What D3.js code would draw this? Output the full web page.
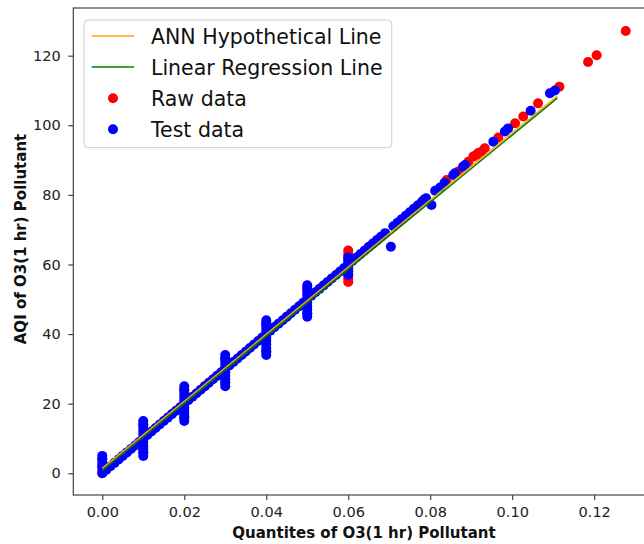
<!DOCTYPE html>
<html>
<head>
<meta charset="utf-8">
<script src="https://cdn.jsdelivr.net/npm/d3@7/dist/d3.min.js"></script>
<style>
  body { margin: 0; background: #fff; }
  svg { display: block; font-family: "DejaVu Sans", sans-serif; }
</style>
</head>
<body>
<div id="chart"></div>
<script>
'use strict';

var width = 644;
var height = 544;

// fitted lines (x in ppm, y = AQI)
var annX = [0, 0.111];
var annY = [1.4, 108.4];
var lrX = [0, 0.111];
var lrY = [0.8, 107.8];

// raw data (red)
var rawX = [
  0, 0, 0, 0.01, 0.01, 0.01, 0.02, 0.02, 0.03, 0.03, 0.04, 0.04, 0.05, 0.05,
  0.06, 0.06, 0.06, 0.06, 0.06, 0.06, 0.06, 0.06, 0.06, 0.06,
  0.025, 0.045, 0.065, 0.0785, 0.084, 0.0868, 0.0893, 0.0905, 0.0913, 0.0917,
  0.0925, 0.0933, 0.0966, 0.1007, 0.1027, 0.1063, 0.1115,
  0.1185, 0.1206, 0.1277
];
var rawY = [
  0, 2, 4, 6, 10, 14, 16, 24, 26, 33, 35, 43, 46, 53,
  55, 56, 57, 58, 59, 60, 61, 62, 63, 64,
  25, 45, 65, 78.7, 84.3, 86.7, 89.5, 91, 91.5, 92,
  92.4, 93.4, 96.5, 100.6, 102.5, 106.3, 111.1,
  118.2, 120.1, 127.1
];

// test data (blue)
var testX = [
  0, 0, 0, 0, 0, 0,
  0.01, 0.01, 0.01, 0.01, 0.01, 0.01, 0.01, 0.01, 0.01, 0.01, 0.01,
  0.02, 0.02, 0.02, 0.02, 0.02, 0.02, 0.02, 0.02, 0.02, 0.02, 0.02,
  0.03, 0.03, 0.03, 0.03, 0.03, 0.03, 0.03, 0.03, 0.03, 0.03,
  0.04, 0.04, 0.04, 0.04, 0.04, 0.04, 0.04, 0.04, 0.04, 0.04, 0.04,
  0.05, 0.05, 0.05, 0.05, 0.05, 0.05, 0.05, 0.05, 0.05, 0.05,
  0.06, 0.06, 0.06, 0.06, 0.06, 0.06,
  0.001, 0.002, 0.003, 0.004, 0.005, 0.006, 0.007, 0.008, 0.009,
  0.011, 0.012, 0.013, 0.014, 0.015, 0.016, 0.017, 0.018, 0.019,
  0.021, 0.022, 0.023, 0.024, 0.025, 0.026, 0.027, 0.028, 0.029,
  0.031, 0.032, 0.033, 0.034, 0.035, 0.036, 0.037, 0.038, 0.039,
  0.041, 0.042, 0.043, 0.044, 0.045, 0.046, 0.047, 0.048, 0.049,
  0.051, 0.052, 0.053, 0.054, 0.055, 0.056, 0.057, 0.058, 0.059,
  0.061, 0.062, 0.063, 0.064, 0.065, 0.066, 0.067, 0.068, 0.069,
  0.071, 0.072, 0.073, 0.074, 0.075, 0.076, 0.077, 0.078, 0.079,
  0.0704, 0.0803, 0.0812, 0.0824, 0.0835, 0.0856, 0.086, 0.088, 0.0885,
  0.0954, 0.0982, 0.099, 0.1045, 0.1092, 0.1104
];
var testY = [
  0, 1, 2, 3, 4, 5,
  5, 6, 7, 8, 9, 10, 11, 12, 13, 14, 15,
  15, 16, 17, 18, 19, 20, 21, 22, 23, 24, 25,
  25, 26, 27, 28, 29, 30, 31, 32, 33, 34,
  34, 35, 36, 37, 38, 39, 40, 41, 42, 43, 44,
  45, 46, 47, 48, 49, 50, 51, 52, 53, 54,
  57, 58, 59, 60, 61, 62,
  1, 2, 3, 4, 5, 6, 7, 8, 9,
  11, 12, 13, 14, 15, 16, 17, 18, 19,
  21, 22, 23, 24, 25, 26, 27, 28, 29,
  31, 32, 33, 34, 35, 36, 37, 38, 39,
  41, 42, 43, 44, 45, 46, 47, 48, 49,
  51, 52, 53, 54, 55, 56, 57, 58, 59,
  61, 62, 63, 64, 65, 66, 67, 68, 69,
  71, 72, 73, 74, 75, 76, 77, 78, 79,
  65.1, 77.1, 81.2, 82.1, 83.5, 85.7, 86.2, 88.1, 88.6,
  95.3, 98.2, 99.1, 104.2, 109.2, 110
];

var xTicks = [0, 0.02, 0.04, 0.06, 0.08, 0.10, 0.12];
var yTicks = [0, 20, 40, 60, 80, 100, 120];

var legendNames = ['ANN Hypothetical Line', 'Linear Regression Line', 'Raw data', 'Test data'];
var legendKinds = ['line', 'line', 'dot', 'dot'];
var legendColors = ['#ffa500', '#008000', '#ff0000', '#0000ff'];

var plot = { left: 73.3, right: 652, top: 8, bottom: 495 };

var svg = d3.select('#chart').
  append('svg').
  attr('width', width).
  attr('height', height);

var x = d3.scaleLinear().domain([-0.00707, 0.1341]).range([plot.left, plot.right]);
var y = d3.scaleLinear().domain([-6.24, 133.7]).range([plot.bottom, plot.top]);

svg.append('clipPath').attr('id', 'clip').
  append('rect').
  attr('x', plot.left).
  attr('y', plot.top).
  attr('width', plot.right - plot.left).
  attr('height', plot.bottom - plot.top);

var inner = svg.append('g').attr('clip-path', 'url(#clip)');

function dots (xs, ys, color) {
  inner.append('g').
    selectAll('circle').
    data(d3.range(xs.length)).
    enter().
    append('circle').
    attr('cx', function (i) { return x(xs[i]); }).
    attr('cy', function (i) { return y(ys[i]); }).
    attr('r', 5).
    attr('fill', color);
}

function line (xs, ys, color) {
  var gen = d3.line().
    x(function (i) { return x(xs[i]); }).
    y(function (i) { return y(ys[i]); });
  inner.append('path').
    attr('d', gen(d3.range(xs.length))).
    attr('fill', 'none').
    attr('stroke', color).
    attr('stroke-width', 1.5);
}

dots(rawX, rawY, '#ff0000');
dots(testX, testY, '#0000ff');
line(annX, annY, '#ffa500');
line(lrX, lrY, '#008000');

// axes
var xAxis = svg.append('g').
  attr('transform', 'translate(0,' + plot.bottom + ')').
  call(d3.axisBottom(x).tickValues(xTicks).tickFormat(d3.format('.2f')).tickSize(5).tickPadding(7));
var yAxis = svg.append('g').
  attr('transform', 'translate(' + plot.left + ',0)').
  call(d3.axisLeft(y).tickValues(yTicks).tickFormat(d3.format('d')).tickSize(5).tickPadding(7.5));

[xAxis, yAxis].forEach(function (ax) {
  ax.select('.domain').remove();
  ax.selectAll('line').attr('stroke', '#333').attr('stroke-width', 1.1);
  ax.selectAll('text').
    attr('fill', '#222').
    style('font-family', '"DejaVu Sans", sans-serif').
    style('font-size', '14.5px');
});

svg.append('rect').
  attr('x', plot.left).
  attr('y', plot.top).
  attr('width', plot.right - plot.left).
  attr('height', plot.bottom - plot.top).
  attr('fill', 'none').
  attr('stroke', '#444').
  attr('stroke-width', 1.2);

svg.append('text').
  attr('x', 364).
  attr('y', 538).
  attr('text-anchor', 'middle').
  style('font-size', '15px').
  style('font-weight', 'bold').
  attr('fill', '#111').
  text('Quantites of O3(1 hr) Pollutant');

svg.append('text').
  attr('transform', 'translate(26,239) rotate(-90)').
  attr('text-anchor', 'middle').
  style('font-size', '15px').
  style('font-weight', 'bold').
  attr('fill', '#111').
  text('AQI of O3(1 hr) Pollutant');

// legend
var legend = svg.append('g');
legend.append('rect').
  attr('x', 84).
  attr('y', 20).
  attr('width', 307.7).
  attr('height', 127.7).
  attr('rx', 4).
  attr('fill', '#fff').
  attr('fill-opacity', 0.8).
  attr('stroke', '#ccc').
  attr('stroke-width', 1);

var rows = legend.selectAll('g.row').
  data(legendNames).
  enter().
  append('g').
  attr('class', 'row').
  attr('transform', function (d, i) { return 'translate(0,' + (36 + i * 31.1) + ')'; });

rows.each(function (d, i) {
  var row = d3.select(this);
  if (legendKinds[i] === 'line') {
    row.append('line').
      attr('x1', 91.7).
      attr('x2', 134).
      attr('stroke', legendColors[i]).
      attr('stroke-width', 1.5);
  } else {
    row.append('circle').
      attr('cx', 113).
      attr('r', 5).
      attr('fill', legendColors[i]);
  }
  row.append('text').
    attr('x', 151).
    attr('y', 7.5).
    style('font-size', '20.5px').
    attr('fill', '#111').
    text(d);
});
</script>
</body>
</html>
